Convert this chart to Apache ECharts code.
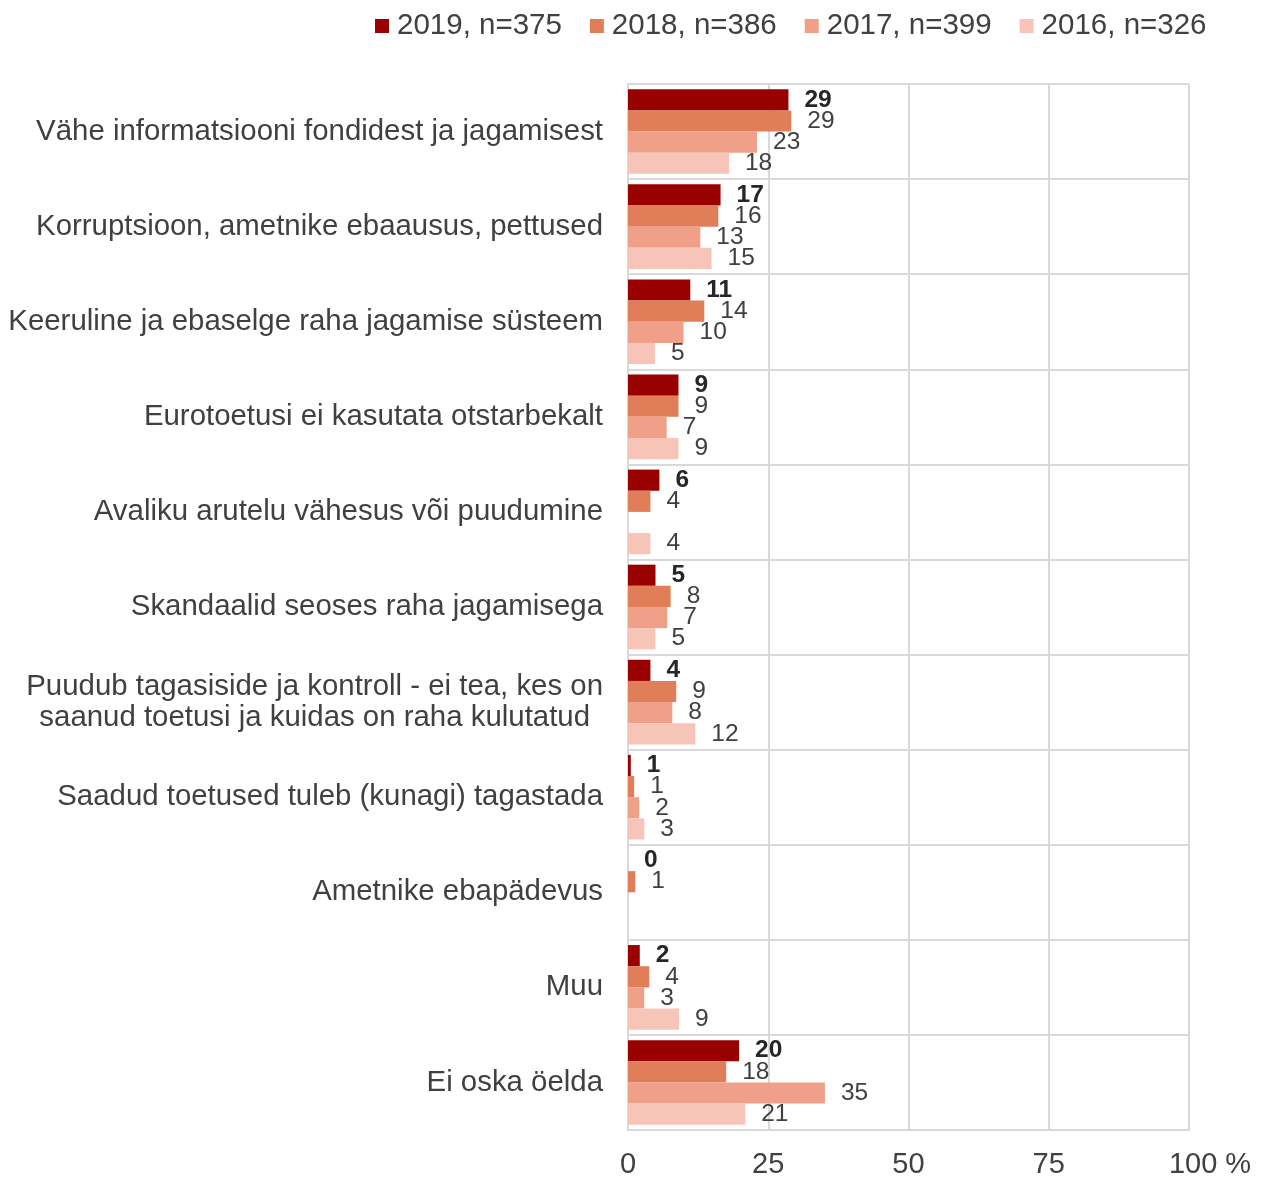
<!DOCTYPE html>
<html>
<head>
<meta charset="utf-8">
<script src="https://cdn.jsdelivr.net/npm/echarts@6/dist/echarts.min.js"></script>
<style>html,body{margin:0;padding:0;background:#fff}#c{width:1266px;height:1177px}</style>
</head>
<body>
<div id="c"></div>
<script>
var categories = [
  "Vähe informatsiooni fondidest ja jagamisest",
  "Korruptsioon, ametnike ebaausus, pettused",
  "Keeruline ja ebaselge raha jagamise süsteem",
  "Eurotoetusi ei kasutata otstarbekalt",
  "Avaliku arutelu vähesus või puudumine",
  "Skandaalid seoses raha jagamisega",
  "Puudub tagasiside ja kontroll - ei tea, kes on\nsaanud toetusi ja kuidas on raha kulutatud",
  "Saadud toetused tuleb (kunagi) tagastada",
  "Ametnike ebapädevus",
  "Muu",
  "Ei oska öelda"
];
var seriesNames = ["2019, n=375", "2018, n=386", "2017, n=399", "2016, n=326"];
var v2019 = [28.6, 16.5, 11.1, 9.0, 5.6, 4.9, 4.0, 0.5, 0, 2.1, 19.8];
var v2018 = [29.1, 16.1, 13.6, 9.0, 4.0, 7.6, 8.6, 1.1, 1.3, 3.8, 17.5];
var v2017 = [23.0, 12.9, 9.9, 6.9, null, 7.0, 7.9, 2.0, null, 2.9, 35.1];
var v2016 = [18.0, 14.9, 4.8, 9.0, 4.0, 4.9, 12.0, 2.9, null, 9.1, 20.9];
var xTicks = [0, 25, 50, 75, 100];

var colors = ["#990000", "#E07E5A", "#F0A088", "#F7C5B8"];
var values = [v2019, v2018, v2017, v2016];
var FONT = "'Liberation Sans', Arial, sans-serif";

var series = values.map(function (vals, i) {
  return {
    name: seriesNames[i],
    type: 'bar',
    data: vals,
    barGap: '0%',
    barCategoryGap: '11%',
    itemStyle: { color: colors[i] },
    label: {
      show: true,
      position: 'right',
      distance: 16,
      fontFamily: FONT,
      fontSize: 24.5,
      fontWeight: i === 0 ? 'bold' : 'normal',
      color: i === 0 ? '#262626' : '#404040',
      formatter: function (p) { return p.value == null ? '' : String(Math.round(p.value)); }
    }
  };
});

var chart = echarts.init(document.getElementById('c'), null, { renderer: 'canvas' });
chart.setOption({
  animation: false,
  color: colors,
  legend: {
    data: seriesNames,
    left: 370,
    top: 6,
    itemWidth: 14,
    itemHeight: 14,
    itemGap: 28,
    icon: 'rect',
    textStyle: { fontFamily: FONT, fontSize: 29.5, color: '#404040', padding: [0, 0, 0, 3] }
  },
  grid: { left: 628, right: 77, top: 84, bottom: 47, containLabel: false, outerBoundsMode: 'none' },
  xAxis: {
    type: 'value',
    min: 0, max: 100, interval: 25,
    axisLine: { show: true, lineStyle: { color: '#d9d9d9', width: 2 } },
    axisTick: { show: false },
    splitLine: { show: true, lineStyle: { color: '#d9d9d9', width: 2 } },
    axisLabel: {
      margin: 20,
      fontFamily: FONT, fontSize: 29, color: '#404040',
      formatter: function (v) { return v === 100 ? '{p|100 %}' : String(v); },
      rich: { p: { fontFamily: FONT, fontSize: 29, color: '#404040', padding: [0, 0, 0, 42] } }
    }
  },
  yAxis: {
    type: 'category',
    inverse: true,
    data: categories,
    axisLine: { show: true, lineStyle: { color: '#d9d9d9', width: 2 } },
    axisTick: { show: false },
    splitLine: { show: true, lineStyle: { color: '#d9d9d9', width: 2 } },
    axisLabel: {
      margin: 25,
      fontFamily: FONT, fontSize: 29.4, color: '#404040', lineHeight: 31,
      formatter: function (v) {
        var parts = v.split('\n');
        if (parts.length === 1) return v;
        return '{a|' + parts[0] + '}\n{b|' + parts[1] + '}';
      },
      rich: {
        a: { fontFamily: FONT, fontSize: 29.4, color: '#404040', lineHeight: 31 },
        b: { fontFamily: FONT, fontSize: 29.4, color: '#404040', lineHeight: 31, padding: [0, 13, 0, 0] }
      }
    }
  },
  series: series
});
</script>
</body>
</html>
